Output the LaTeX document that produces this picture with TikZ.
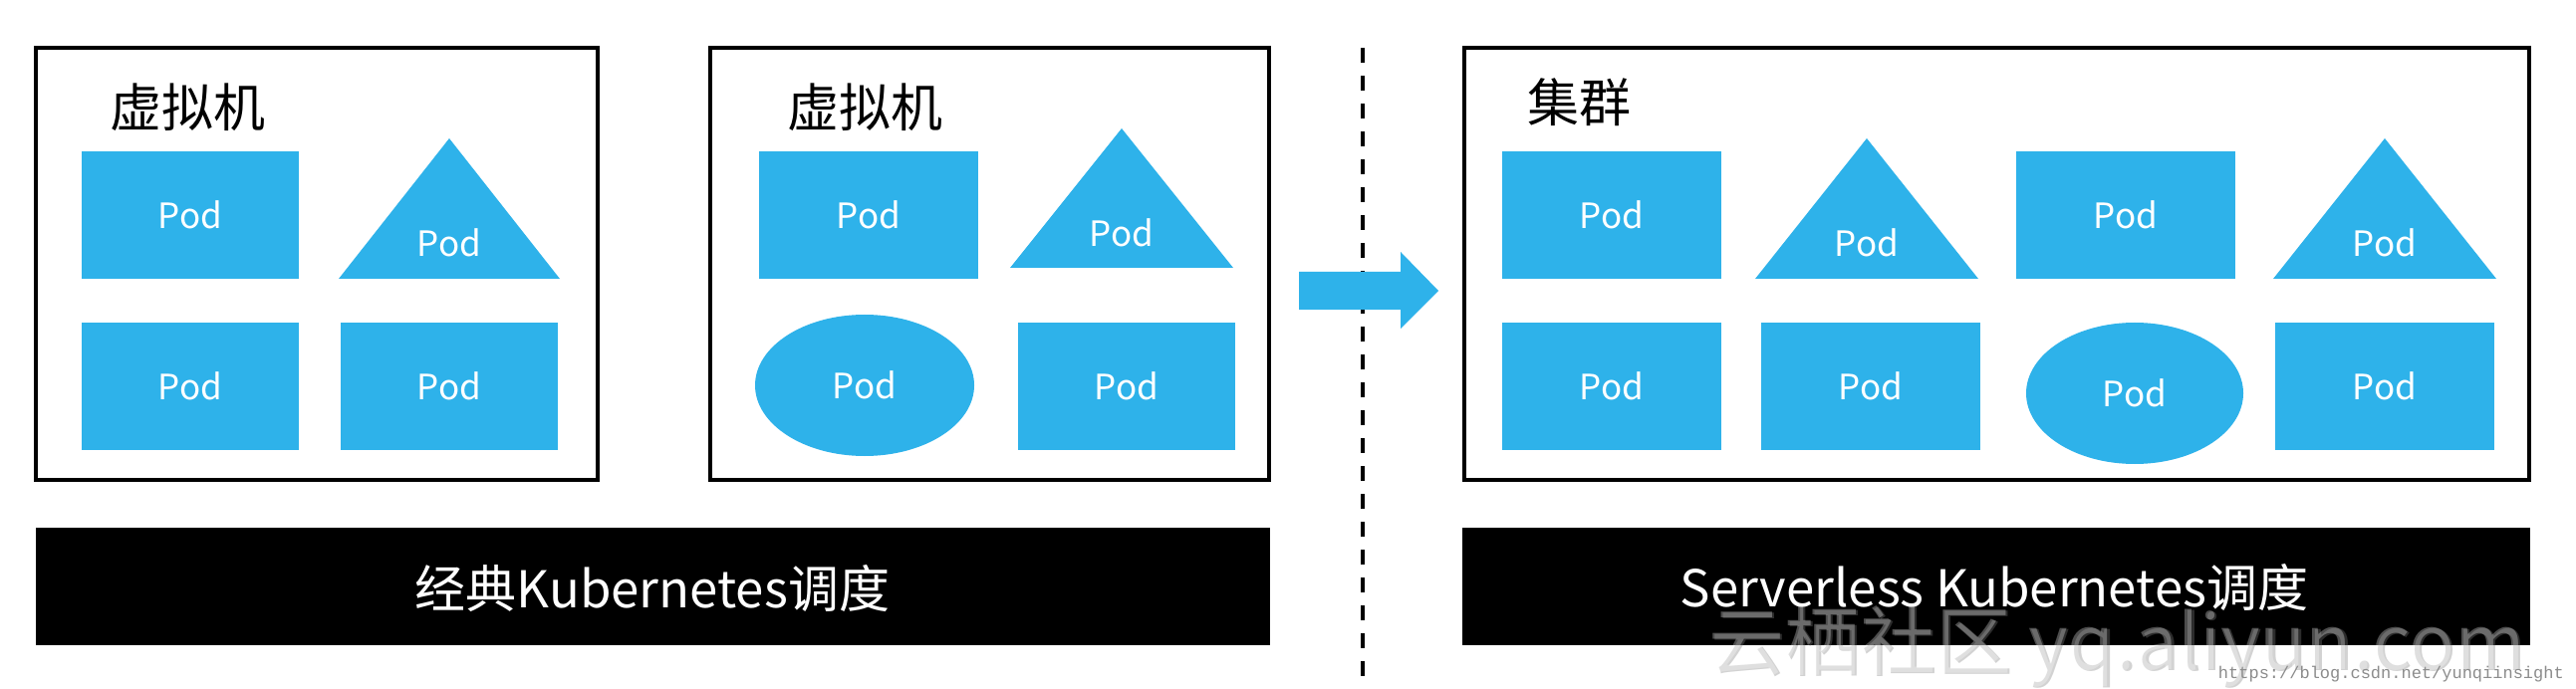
\documentclass[tikz,border=0pt]{standalone}
\usepackage{fontspec}
\setmainfont{Noto Sans CJK SC}
\newfontfamily\monofnt{Liberation Mono}
\usetikzlibrary{shapes.geometric}
\definecolor{podblue}{HTML}{2EB2EA}
\begin{document}
\begin{tikzpicture}[x=1pt,y=-1pt,
  frame/.style={draw=black,line width=3.5pt},
  podfont/.style={font=\fontsize{35}{40}\selectfont},
  podrect/.style={fill=podblue,draw=none,inner sep=0pt,minimum width=218pt,minimum height=128pt,text=white,podfont},
  podell/.style={ellipse,fill=podblue,draw=none,inner sep=0pt,minimum width=220pt,minimum height=142pt,text=white,podfont},
  podtri/.style={fill=podblue},
  podlabel/.style={anchor=base,text=white,inner sep=0pt,podfont},
  titletext/.style={anchor=base,inner sep=0pt,text=black,font=\fontsize{52}{60}\selectfont},
  barbox/.style={fill=black},
  bartext/.style={anchor=base,inner sep=0pt,text=white,font=\fontsize{51}{60}\selectfont},
  divider/.style={draw=black,line width=4pt,dash pattern=on 15pt off 13pt},
  bigarrow/.style={fill=podblue},
  wmfont/.style={font=\fontsize{76}{84}\selectfont},
]
\useasboundingbox (0,0) rectangle (2586,692);
\fill[white] (0,0) rectangle (2586,692);

% ---------- frames ----------
\draw[frame] (36,48) rectangle (600,482);
\draw[frame] (713,48) rectangle (1274,482);
\draw[frame] (1470,48) rectangle (2539,482);

\node[titletext] (title1) at (188,128) {虚拟机};
\node[titletext] (title2) at (868,128) {虚拟机};
\node[titletext] (title3) at (1585,123) {集群};

% ---------- VM 1 ----------
\node[podrect] (p1) at (191,216) {Pod};
\fill[podtri] (451,139) -- (562,280) -- (340,280) -- cycle;
\node[podlabel] (p2) at (451,258) {Pod};
\node[podrect] (p3) at (191,388) {Pod};
\node[podrect] (p4) at (451,388) {Pod};

% ---------- VM 2 ----------
\node[podrect,minimum width=220pt] (p5) at (872,216) {Pod};
\fill[podtri] (1126,129) -- (1238,269) -- (1014,269) -- cycle;
\node[podlabel] (p6) at (1126,248) {Pod};
\node[podell] (p7) at (868,387) {Pod};
\node[podrect] (p8) at (1131,388) {Pod};

% ---------- cluster ----------
\node[podrect,minimum width=220pt] (q1) at (1618,216) {Pod};
\fill[podtri] (1874,139) -- (1986,280) -- (1762,280) -- cycle;
\node[podlabel] (q2) at (1874,258) {Pod};
\node[podrect,minimum width=220pt] (q3) at (2134,216) {Pod};
\fill[podtri] (2394,139) -- (2506,280) -- (2282,280) -- cycle;
\node[podlabel] (q4) at (2394,258) {Pod};
\node[podrect,minimum width=220pt] (q5) at (1618,388) {Pod};
\node[podrect,minimum width=220pt] (q6) at (1878,388) {Pod};
\node[podell,minimum width=218pt] (q7) at (2143,395) {Pod};
\node[podrect,minimum width=220pt] (q8) at (2394,388) {Pod};

% ---------- divider and arrow ----------
\draw[divider] (1368,48) -- (1368,684);
\fill[bigarrow] (1304,273) -- (1406,273) -- (1406,253) -- (1444,292) -- (1406,330) -- (1406,311) -- (1304,311) -- cycle;

% ---------- bars ----------
\fill[barbox] (36,530) rectangle (1275,648);
\node[bartext] (b1) at (655,610) {经典Kubernetes调度};
\fill[barbox] (1468,530) rectangle (2540,648);
\node[bartext] (b2) at (2002,609) {Serverless Kubernetes调度};

% ---------- watermark ----------
\node[anchor=base west,inner sep=0pt,wmfont,text=gray,opacity=0.35] (wm0) at (1717.5,673.5) {云栖社区 yq.aliyun.com};
\node[anchor=base west,inner sep=0pt,wmfont,text=white,opacity=0.3] (wm1) at (1715,672) {云栖社区 yq.aliyun.com};
\node[anchor=base east,inner sep=0pt,font=\monofnt\fontsize{17}{20}\selectfont,text=black!45] (url) at (2574,681) {https://blog.csdn.net/yunqiinsight};
\end{tikzpicture}
\end{document}
